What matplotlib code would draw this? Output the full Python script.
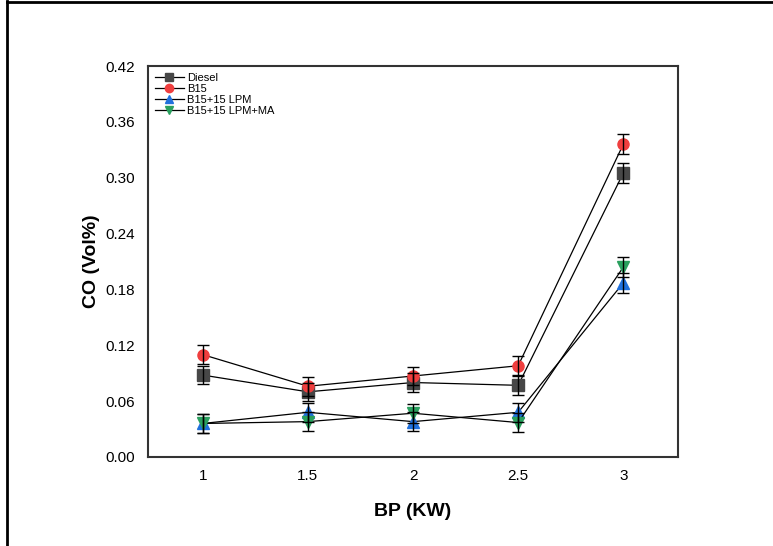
import numpy as np
import matplotlib.pyplot as plt
from matplotlib.lines import Line2D

plt.rcParams['font.family'] = ['Liberation Sans', 'DejaVu Sans']

bp = [1, 1.5, 2, 2.5, 3]
diesel = [0.088, 0.070, 0.080, 0.077, 0.305]
b15 = [0.110, 0.076, 0.087, 0.098, 0.336]
b15_lpm = [0.036, 0.048, 0.038, 0.048, 0.187]
b15_lpm_ma = [0.036, 0.038, 0.047, 0.037, 0.204]
err = [0.01, 0.01, 0.01, 0.01, 0.011]

series = [
    ('Diesel', diesel, 's', '#474747'),
    ('B15', b15, 'o', '#ef3e3e'),
    ('B15+15 LPM', b15_lpm, '^', '#2070dc'),
    ('B15+15 LPM+MA', b15_lpm_ma, 'v', '#2aa05e'),
]

fig = plt.figure(figsize=(7.73, 5.46), dpi=100)
ax = fig.add_axes([148 / 773, 1 - 457 / 546, 530 / 773, 391 / 546])

for name, vals, mk, col in series:
    ax.plot(bp, vals, color='black', lw=0.9, marker=mk, markersize=8,
            markerfacecolor=col, markeredgecolor=col, label=name, zorder=3)
    ax.errorbar(bp, vals, yerr=err, fmt='none', ecolor='black',
                elinewidth=1, capsize=4, capthick=1, zorder=4)

ax.set_xlim(0.74, 3.26)
ax.set_ylim(0, 0.42)
ax.set_xticks(bp)
ax.set_xticklabels(['1', '1.5', '2', '2.5', '3'])
ax.set_yticks(np.arange(0, 0.43, 0.06))
ax.set_yticklabels([f'{v:.2f}' for v in np.arange(0, 0.43, 0.06)])
ax.tick_params(length=0, labelsize=11, pad=9)
for s in ax.spines.values():
    s.set_color('#333333')
    s.set_linewidth(1.5)

ax.set_xlabel('BP (KW)', fontsize=14, fontweight='bold', labelpad=14)
ax.set_ylabel('CO (Vol%)', fontsize=14, fontweight='bold', labelpad=4)

ax.legend(loc='upper left', frameon=False, fontsize=8, handlelength=2.6,
          markerscale=0.75, labelspacing=0.1, borderaxespad=0.2,
          handletextpad=0.3)

# outer frame
fig.add_artist(Line2D([7 / 773, 7 / 773], [0, 1 - 1 / 546], color='black', lw=2))
fig.add_artist(Line2D([7 / 773, 1], [1 - 2 / 546, 1 - 2 / 546], color='black', lw=2))

fig.savefig('out.png', dpi=100)
